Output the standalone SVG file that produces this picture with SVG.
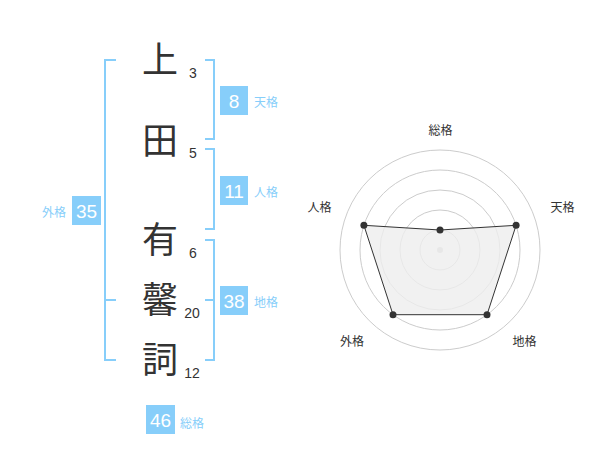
<svg xmlns="http://www.w3.org/2000/svg" width="600" height="470" viewBox="0 0 600 470">
<style>
.br{fill:none;stroke:#87cefa;stroke-width:2}
.box{fill:#87cefa}
.bn{font-family:"Liberation Sans","Noto Sans CJK JP",sans-serif;font-size:19px;fill:#fff;text-anchor:middle}
.lb{font-family:"Noto Sans CJK JP",sans-serif;font-size:12px;fill:#87cefa}
.kj{font-family:"Noto Sans CJK JP",sans-serif;font-size:36px;fill:#333;text-anchor:middle}
.sn{font-family:"Liberation Sans","Noto Sans CJK JP",sans-serif;font-size:14px;fill:#333;text-anchor:middle}
.rl{font-family:"Noto Sans CJK JP",sans-serif;font-size:12px;fill:#333;text-anchor:middle}
.ring{fill:none;stroke:#ccc;stroke-width:1}
</style>
<g id="connectors">
<path class="br" d="M116,60 H105 V360 H116 M105,300 H116"/>
<path class="br" d="M205,60 H214 V139 H205"/>
<path class="br" d="M205,149 H214 V229 H205"/>
<path class="br" d="M205,240 H214 V360 H205 M214,300 H205"/>
</g>
<g id="name">
<text class="kj" x="160" y="73">上</text>
<text class="kj" x="160" y="154">田</text>
<text class="kj" x="160" y="253">有</text>
<text class="kj" x="160" y="313">馨</text>
<text class="kj" x="160" y="373">詞</text>
<text class="sn" x="193" y="78">3</text>
<text class="sn" x="193" y="158">5</text>
<text class="sn" x="193" y="258">6</text>
<text class="sn" x="192" y="318">20</text>
<text class="sn" x="192" y="378">12</text>
</g>
<g id="tenkaku">
<rect class="box" x="220" y="86" width="28" height="29"/>
<text class="bn" x="234" y="107.5">8</text>
<text class="lb" x="254" y="107">天格</text>
</g>
<g id="jinkaku">
<rect class="box" x="220" y="176" width="28" height="29"/>
<text class="bn" x="234" y="197.5">11</text>
<text class="lb" x="254" y="197">人格</text>
</g>
<g id="chikaku">
<rect class="box" x="220" y="286" width="28" height="29"/>
<text class="bn" x="234" y="307.5">38</text>
<text class="lb" x="254" y="307">地格</text>
</g>
<g id="gaikaku">
<rect class="box" x="72" y="196" width="29" height="29"/>
<text class="bn" x="86.5" y="217.5">35</text>
<text class="lb" x="66" y="217" text-anchor="end">外格</text>
</g>
<g id="soukaku">
<rect class="box" x="146" y="405" width="29" height="29"/>
<text class="bn" x="160.5" y="426.5">46</text>
<text class="lb" x="180" y="428">総格</text>
</g>
<g id="radar">
<circle class="ring" cx="440" cy="250" r="20"/>
<circle class="ring" cx="440" cy="250" r="40"/>
<circle class="ring" cx="440" cy="250" r="60"/>
<circle class="ring" cx="440" cy="250" r="80"/>
<circle class="ring" cx="440" cy="250" r="100"/>
<circle cx="440" cy="250" r="3" fill="#ccc"/>
<polygon points="440,230 516.1,225.3 487,314.7 393,314.7 363.9,225.3" fill="#eee" fill-opacity="0.8" stroke="#333" stroke-width="1"/>
<g fill="#333">
<circle cx="440" cy="230" r="3.5"/>
<circle cx="516.1" cy="225.3" r="3.5"/>
<circle cx="487" cy="314.7" r="3.5"/>
<circle cx="393" cy="314.7" r="3.5"/>
<circle cx="363.9" cy="225.3" r="3.5"/>
</g>
<text class="rl" x="440.5" y="135">総格</text>
<text class="rl" x="562.5" y="212">天格</text>
<text class="rl" x="319.5" y="212">人格</text>
<text class="rl" x="352" y="346">外格</text>
<text class="rl" x="524.5" y="346">地格</text>
</g>
</svg>
